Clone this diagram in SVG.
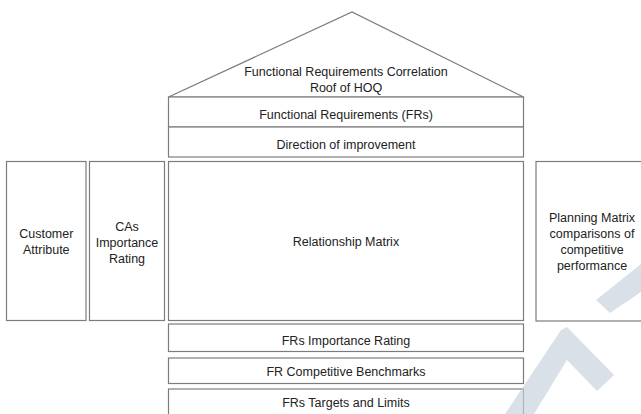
<svg xmlns="http://www.w3.org/2000/svg" width="641" height="414" viewBox="0 0 641 414">
  <style>
    .box { fill: #ffffff; stroke: #7c7c7c; stroke-width: 1.2; }
    .lbl { font-family: "Liberation Sans", Arial, Helvetica, sans-serif; font-size: 12.5px; fill: #222222; text-anchor: middle; }
    .mark { fill: #c6d0dc; opacity: 0.65; }
  </style>
  <rect width="641" height="414" fill="#ffffff"/>

  <!-- roof with FR rows -->
  <g id="roof">
    <polygon class="box" points="168.5,97 352,12 523.5,97"/>
    <text class="lbl" x="346" y="76">Functional Requirements Correlation</text>
    <text class="lbl" x="346" y="91.5">Roof of HOQ</text>
  </g>
  <g id="frs">
    <rect class="box" x="168.5" y="97" width="355" height="30"/>
    <text class="lbl" x="346" y="118.5">Functional Requirements (FRs)</text>
  </g>
  <g id="direction">
    <rect class="box" x="168.5" y="127" width="355" height="30"/>
    <text class="lbl" x="346" y="148.5">Direction of improvement</text>
  </g>

  <!-- middle row -->
  <g id="customer">
    <rect class="box" x="6.5" y="161.5" width="79.5" height="159"/>
    <text class="lbl" x="46.3" y="238">Customer</text>
    <text class="lbl" x="46.3" y="254">Attribute</text>
  </g>
  <g id="cas">
    <rect class="box" x="89.5" y="161.5" width="75" height="159"/>
    <text class="lbl" x="127" y="230.5">CAs</text>
    <text class="lbl" x="127" y="246.5">Importance</text>
    <text class="lbl" x="127" y="262.5">Rating</text>
  </g>
  <g id="matrix">
    <rect class="box" x="168.5" y="161.5" width="355" height="159"/>
    <text class="lbl" x="346" y="246">Relationship Matrix</text>
  </g>
  <g id="planning">
    <rect class="box" x="536" y="161.5" width="120" height="159.5"/>
    <text class="lbl" x="592" y="221.5">Planning Matrix</text>
    <text class="lbl" x="592" y="237.5">comparisons of</text>
    <text class="lbl" x="592" y="254">competitive</text>
    <text class="lbl" x="592" y="270">performance</text>
  </g>

  <!-- bottom rows -->
  <g id="importance">
    <rect class="box" x="168.5" y="324" width="355" height="27.5"/>
    <text class="lbl" x="346" y="344.5">FRs Importance Rating</text>
  </g>
  <g id="benchmarks">
    <rect class="box" x="168.5" y="358" width="355" height="25.5"/>
    <text class="lbl" x="346" y="376">FR Competitive Benchmarks</text>
  </g>
  <g id="targets">
    <rect class="box" x="168.5" y="389" width="355" height="30"/>
    <text class="lbl" x="346" y="407">FRs Targets and Limits</text>
  </g>

  <g id="connectors"/>

  <!-- faint logo mark, lower right -->
  <g id="mark">
    <polygon class="mark" points="505,414 561,330 567,327 614,375 597,391 567,360 534,414"/>
    <polygon class="mark" points="596,300 641,264 641,292 610,313"/>
  </g>
</svg>
